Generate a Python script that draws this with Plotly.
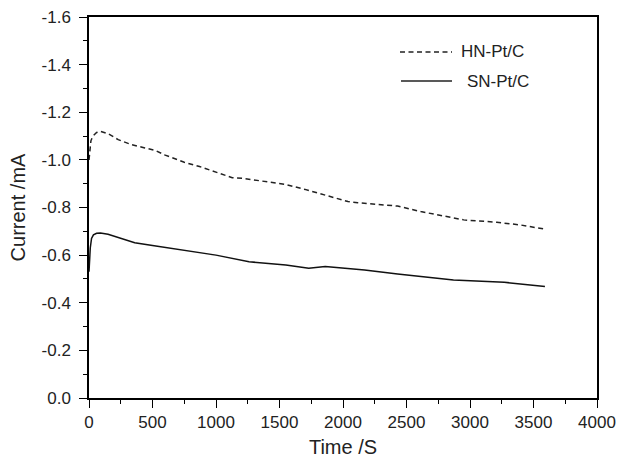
import plotly.graph_objects as go

# HN-Pt/C (dashed)
hn_time = [0, 5, 15, 30, 60, 90, 150, 230, 330, 440, 520, 600, 750, 870, 997, 1128, 1206,
           1388, 1544, 1701, 1857, 2039, 2117, 2430, 2612, 2873, 2950, 3211, 3393, 3580, 3600]
hn_current = [-1.00, -1.02, -1.08, -1.10, -1.115, -1.12, -1.11, -1.085, -1.065, -1.05, -1.04,
              -1.02, -0.99, -0.972, -0.950, -0.925, -0.923, -0.909, -0.897, -0.876, -0.853,
              -0.825, -0.820, -0.806, -0.783, -0.757, -0.748, -0.738, -0.727, -0.710, -0.708]

# SN-Pt/C (solid)
sn_time = [0, 5, 10, 20, 35, 60, 90, 150, 250, 360, 500, 620, 870, 1000, 1260, 1550, 1730,
           1860, 2170, 2430, 2870, 3270, 3590]
sn_current = [-0.53, -0.58, -0.63, -0.67, -0.685, -0.692, -0.693, -0.688, -0.672, -0.652,
              -0.640, -0.630, -0.608, -0.600, -0.572, -0.559, -0.545, -0.552, -0.538, -0.521,
              -0.496, -0.486, -0.468]

series_names = ["HN-Pt/C", "SN-Pt/C"]

x_ticks = [0, 500, 1000, 1500, 2000, 2500, 3000, 3500, 4000]
y_ticks = [0.0, -0.2, -0.4, -0.6, -0.8, -1.0, -1.2, -1.4, -1.6]

FONT = "Liberation Sans, Arial, sans-serif"
TXT = "#222222"
DASH = "5px,3.5px"

fig = go.Figure()
fig.add_trace(go.Scatter(x=hn_time, y=hn_current, mode="lines", name=series_names[0],
                         line=dict(color="#222222", width=1.5, dash=DASH), showlegend=False))
fig.add_trace(go.Scatter(x=sn_time, y=sn_current, mode="lines", name=series_names[1],
                         line=dict(color="#111111", width=1.5), showlegend=False))

axis_common = dict(showline=True, linecolor="black", linewidth=1.5, mirror=True,
                   ticks="outside", ticklen=8, tickwidth=1.2, tickcolor="black",
                   showgrid=False, zeroline=False, automargin=False,
                   ticklabeloverflow="allow",
                   tickfont=dict(family=FONT, size=17, color=TXT))

fig.update_xaxes(range=[0, 4000], tickvals=x_ticks,
                 ticktext=[str(v) for v in x_ticks],
                 minor=dict(ticks="outside", ticklen=4, dtick=250, tickcolor="black", tickwidth=1.2),
                 title=dict(text="Time /S", font=dict(family=FONT, size=20, color=TXT),
                            standoff=13),
                 **axis_common)
fig.update_yaxes(range=[0, -1.6], tickvals=y_ticks,
                 ticktext=[f"{v:.1f}" for v in y_ticks],
                 ticklabelstandoff=5,
                 minor=dict(ticks="outside", ticklen=4, dtick=0.1, tickcolor="black", tickwidth=1.2),
                 title=dict(text="Current /mA", font=dict(family=FONT, size=20, color=TXT),
                            standoff=11),
                 **axis_common)

# Legend drawn as key lines + labels (paper coordinates)
L, R_, B, T = 89, 597, 398, 17
def px(x):
    return (x - L) / (R_ - L)
def py(y):
    return (B - y) / (B - T)

legend_rows = [
    (series_names[0], 400, 452, 459, 52, DASH),
    (series_names[1], 401, 452, 465, 81, "solid"),
]
for name, x0, x1, xt, yy, dash in legend_rows:
    fig.add_shape(type="line", xref="paper", yref="paper",
                  x0=px(x0), x1=px(x1), y0=py(yy), y1=py(yy),
                  line=dict(color="#222222", width=1.5, dash=dash))
    fig.add_annotation(xref="paper", yref="paper", x=px(xt), y=py(yy),
                       xanchor="left", yanchor="middle", showarrow=False,
                       text=name, font=dict(family=FONT, size=17, color=TXT))

fig.update_layout(
    width=617, height=458,
    margin=dict(l=L, r=617 - R_, t=T, b=458 - B),
    paper_bgcolor="white", plot_bgcolor="white",
    showlegend=False,
)

fig.write_html("out.html", config={"displayModeBar": False},
               post_script="document.body.style.margin='0';document.body.style.overflow='hidden';")
